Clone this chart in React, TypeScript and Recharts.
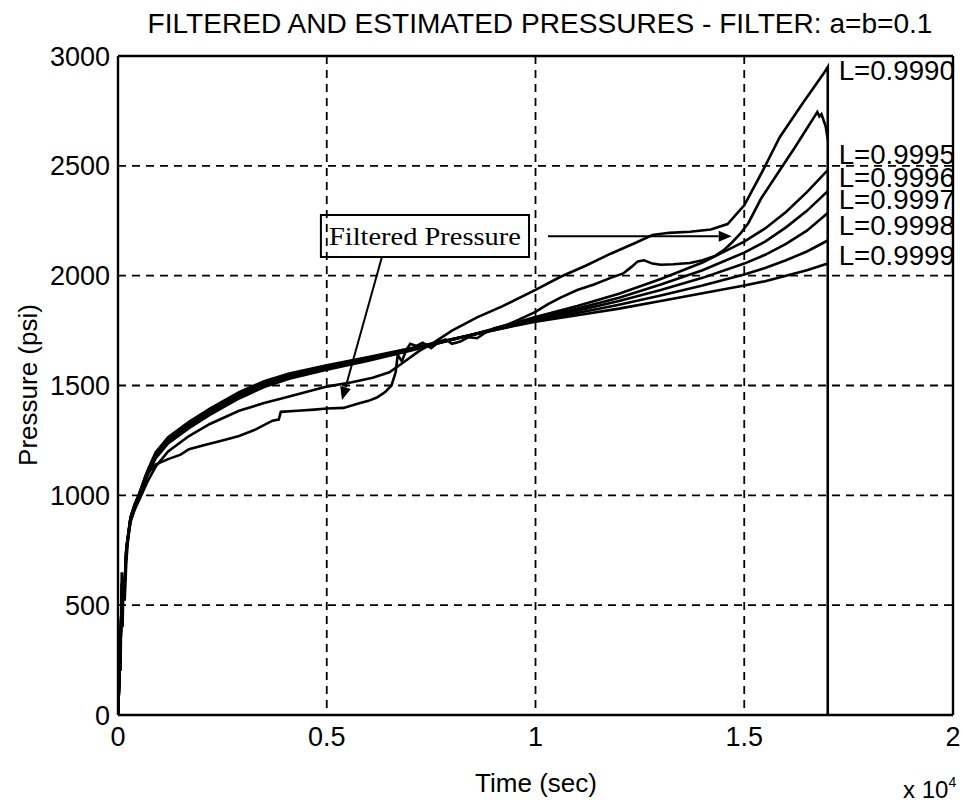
import React from 'react';
import {
  LineChart,
  Line,
  XAxis,
  YAxis,
  CartesianGrid,
  ReferenceLine,
  ReferenceDot,
  ReferenceArea,
} from 'recharts';

// Time grid (sec) shared by the five slow estimators
const T_EST = [
  0, 50, 100, 150, 200, 300, 400, 500, 700, 900, 1200, 1700, 2200, 2900, 3500, 4100,
  5000, 6000, 7000, 8000, 9000, 10000, 11000, 12000, 13000, 14000, 15000, 15500, 16000,
  16500, 17000,
];

const P_9995 = [
  0, 250, 600, 560, 754, 894, 948, 986, 1087, 1168, 1236, 1306, 1366, 1441, 1493, 1531,
  1572, 1613, 1658, 1708, 1758, 1812, 1862, 1918, 1985, 2060, 2155, 2215, 2290, 2380, 2480,
];
const P_9996 = [
  0, 250, 600, 560, 756, 896, 952, 992, 1094, 1176, 1245, 1315, 1375, 1450, 1501, 1538,
  1578, 1618, 1661, 1708, 1755, 1805, 1850, 1900, 1960, 2025, 2105, 2155, 2220, 2295, 2385,
];
const P_9997 = [
  0, 250, 600, 560, 758, 898, 955, 997, 1100, 1183, 1252, 1322, 1382, 1457, 1508, 1544,
  1583, 1622, 1664, 1709, 1753, 1800, 1840, 1885, 1935, 1990, 2055, 2095, 2145, 2205, 2285,
];
const P_9998 = [
  0, 250, 600, 560, 760, 900, 958, 1001, 1105, 1189, 1259, 1329, 1389, 1464, 1514, 1550,
  1588, 1626, 1667, 1710, 1752, 1795, 1830, 1868, 1910, 1955, 2005, 2035, 2070, 2110, 2160,
];
const P_9999 = [
  0, 250, 600, 560, 760, 900, 960, 1005, 1110, 1195, 1265, 1335, 1395, 1470, 1520, 1555,
  1592, 1630, 1670, 1712, 1752, 1790, 1820, 1850, 1885, 1920, 1955, 1975, 2000, 2025, 2055,
];

// L=0.9990 tracks the filtered pressure more closely (ends with the drop to zero)
const T_9990 = [
  0, 50, 100, 150, 200, 300, 400, 500, 700, 900, 1200, 1700, 2200, 2900, 3500, 4100, 5000,
  5600, 6100, 6500, 6800, 7200, 7600, 8000, 8600, 9200, 10000, 10600, 11200, 11800, 12400,
  12800, 13200, 13700, 14200, 14600, 15000, 15450, 15850, 16400, 16900, 17000, 17000,
];
const P_9990 = [
  0, 250, 600, 560, 740, 880, 935, 975, 1060, 1130, 1200, 1270, 1325, 1385, 1420, 1450, 1495,
  1515, 1535, 1560, 1600, 1655, 1700, 1750, 1810, 1860, 1935, 1995, 2045, 2100, 2150,
  2185, 2195, 2200, 2210, 2235, 2320, 2480, 2630, 2785, 2920, 2950, 0,
];

// Filtered pressure (noisy)
const T_FILT = [
  0, 30, 60, 90, 110, 130, 160, 200, 250, 300, 400, 500, 660, 900, 1200, 1500, 1700, 2100,
  2500, 2900, 3300, 3700, 3850, 3900, 4300, 4700, 5000, 5400, 5800, 6000, 6200, 6400, 6550,
  6650, 6700, 6800, 6900, 7000, 7150, 7300, 7500, 7700, 7850, 8000, 8200, 8400, 8600, 8800,
  9000, 9300, 9600, 10000, 10300, 10600, 11000, 11400, 11800, 12100, 12300, 12450, 12600,
  12800, 13000, 13300, 13700, 14000, 14300, 14500, 14700, 14900, 15100, 15400, 15850, 16200,
  16500, 16650, 16750, 16800, 16850, 16950, 17000,
];
const P_FILT = [
  0, 350, 200, 650, 400, 600, 520, 700, 820, 880, 940, 990, 1090, 1140, 1165, 1185, 1210,
  1230, 1250, 1270, 1300, 1340, 1345, 1380, 1385, 1390, 1395, 1398, 1420, 1430, 1445, 1470,
  1500, 1560, 1640, 1610, 1660, 1690, 1680, 1695, 1670, 1700, 1710, 1690, 1700, 1720, 1715,
  1740, 1760, 1775, 1800, 1835, 1870, 1900, 1935, 1960, 1990, 2010, 2040, 2065, 2070, 2055,
  2050, 2052, 2058, 2070, 2090, 2115, 2150, 2190, 2240, 2350, 2480, 2580, 2670, 2715, 2745,
  2725, 2735, 2680, 2620,
];

const X_TICKS = [0, 5000, 10000, 15000, 20000];
const Y_TICKS = [0, 500, 1000, 1500, 2000, 2500, 3000];

const CURVE_LABELS = ['L=0.9990', 'L=0.9995', 'L=0.9996', 'L=0.9997', 'L=0.9998', 'L=0.9999'];
const CURVE_LABEL_Y = [2935, 2553, 2450, 2350, 2228, 2092];
const LABEL_TIME = 17000;

// "Filtered Pressure" call-out (data units)
const BOX_T = [4860, 9845];
const BOX_P = [2085, 2276];
const ARROW_DOWN = [{ x: 6323, y: 2086 }, { x: 5365, y: 1434 }];
const ARROW_RIGHT = [{ x: 10300, y: 2180 }, { x: 14700, y: 2180 }];

const SANS = '"Liberation Sans", Arial, Helvetica, sans-serif';
const SERIF = '"Liberation Serif", "Times New Roman", serif';

const zip = (t: number[], p: number[]) => t.map((v, i) => ({ t: v, p: p[i] }));

const SERIES = [
  zip(T_9990, P_9990),
  zip(T_EST, P_9995),
  zip(T_EST, P_9996),
  zip(T_EST, P_9997),
  zip(T_EST, P_9998),
  zip(T_EST, P_9999),
  zip(T_FILT, P_FILT),
];

const CurveLabel = (props: any) => {
  const { viewBox, text } = props;
  if (!viewBox) return null;
  const x = viewBox.x + viewBox.width / 2 + 11;
  const y = viewBox.y + viewBox.height / 2;
  return (
    <text
      x={x}
      y={y}
      dy="0.36em"
      fontFamily={SANS}
      fontSize={27}
      fill="#000"
      textLength={116}
      lengthAdjust="spacingAndGlyphs"
    >
      {text}
    </text>
  );
};

const BoxLabel = (props: any) => {
  const { viewBox } = props;
  if (!viewBox) return null;
  return (
    <text
      x={viewBox.x + viewBox.width / 2}
      y={viewBox.y + viewBox.height / 2}
      dy="0.33em"
      textAnchor="middle"
      fontFamily={SERIF}
      fontSize={26}
      fill="#000"
      textLength={192}
      lengthAdjust="spacingAndGlyphs"
    >
      Filtered Pressure
    </text>
  );
};

const Arrow = (props: any) => {
  const { x1, y1, x2, y2 } = props;
  const ang = Math.atan2(y2 - y1, x2 - x1);
  const len = 13;
  const half = 5.5;
  const bx = x2 - len * Math.cos(ang);
  const by = y2 - len * Math.sin(ang);
  const px = -Math.sin(ang) * half;
  const py = Math.cos(ang) * half;
  return (
    <g>
      <line x1={x1} y1={y1} x2={bx} y2={by} stroke="#000" strokeWidth={2} />
      <polygon
        points={`${x2},${y2} ${bx + px},${by + py} ${bx - px},${by - py}`}
        fill="#000"
      />
    </g>
  );
};

const App: React.FC = () => {
  return (
    <div style={{ position: 'absolute', left: 0, top: 0, width: 963, height: 805, background: '#fff' }}>
      <LineChart
        width={963}
        height={805}
        margin={{ top: 56, right: 10, bottom: 40, left: 38 }}
      >
        <CartesianGrid
          stroke="#000"
          strokeWidth={1.8}
          strokeDasharray="8 6"
          horizontalValues={Y_TICKS}
          verticalValues={X_TICKS}
        />
        <XAxis
          dataKey="t"
          type="number"
          domain={[0, 20000]}
          ticks={X_TICKS}
          allowDataOverflow
          height={50}
          tickLine={false}
          tickMargin={6}
          axisLine={{ stroke: '#000', strokeWidth: 2.4 }}
          tick={{ fill: '#000', fontSize: 27, fontFamily: SANS }}
          tickFormatter={(v: number) => String(v / 10000)}
        />
        <YAxis
          type="number"
          domain={[0, 3000]}
          ticks={Y_TICKS}
          allowDataOverflow
          width={80}
          tickLine={false}
          axisLine={{ stroke: '#000', strokeWidth: 2.4 }}
          tick={{ fill: '#000', fontSize: 27, fontFamily: SANS }}
        />
        <ReferenceLine y={3000} stroke="#000" strokeWidth={2.4} />
        <ReferenceLine x={20000} stroke="#000" strokeWidth={2.4} />

        {SERIES.map((data, i) => (
          <Line
            key={i}
            data={data}
            dataKey="p"
            type="linear"
            stroke="#000"
            strokeWidth={2.6}
            dot={false}
            isAnimationActive={false}
          />
        ))}

        <ReferenceArea
          x1={BOX_T[0]}
          x2={BOX_T[1]}
          y1={BOX_P[0]}
          y2={BOX_P[1]}
          fill="none"
          stroke="#000"
          strokeWidth={2}
          label={<BoxLabel />}
        />
        <ReferenceLine segment={ARROW_DOWN} shape={<Arrow />} />
        <ReferenceLine segment={ARROW_RIGHT} shape={<Arrow />} />

        {CURVE_LABELS.map((txt, i) => (
          <ReferenceDot
            key={txt}
            x={LABEL_TIME}
            y={CURVE_LABEL_Y[i]}
            r={1}
            fill="none"
            stroke="none"
            label={<CurveLabel text={txt} />}
          />
        ))}
      </LineChart>

      <svg
        width={963}
        height={805}
        style={{ position: 'absolute', left: 0, top: 0, pointerEvents: 'none' }}
      >
        <text
          x={540}
          y={33}
          textAnchor="middle"
          fontFamily={SANS}
          fontSize={27}
          fill="#000"
          textLength={785}
          lengthAdjust="spacingAndGlyphs"
        >
          FILTERED AND ESTIMATED PRESSURES - FILTER: a=b=0.1
        </text>
        <text
          x={536}
          y={792}
          textAnchor="middle"
          fontFamily={SANS}
          fontSize={26}
          fill="#000"
        >
          Time (sec)
        </text>
        <text
          transform="translate(37, 385) rotate(-90)"
          textAnchor="middle"
          fontFamily={SANS}
          fontSize={26}
          fill="#000"
        >
          Pressure (psi)
        </text>
        <text x={903} y={798} fontFamily={SANS} fontSize={24} fill="#000">
          x 10
          <tspan dy={-11} fontSize={14}>
            4
          </tspan>
        </text>
      </svg>
    </div>
  );
};

export default App;
